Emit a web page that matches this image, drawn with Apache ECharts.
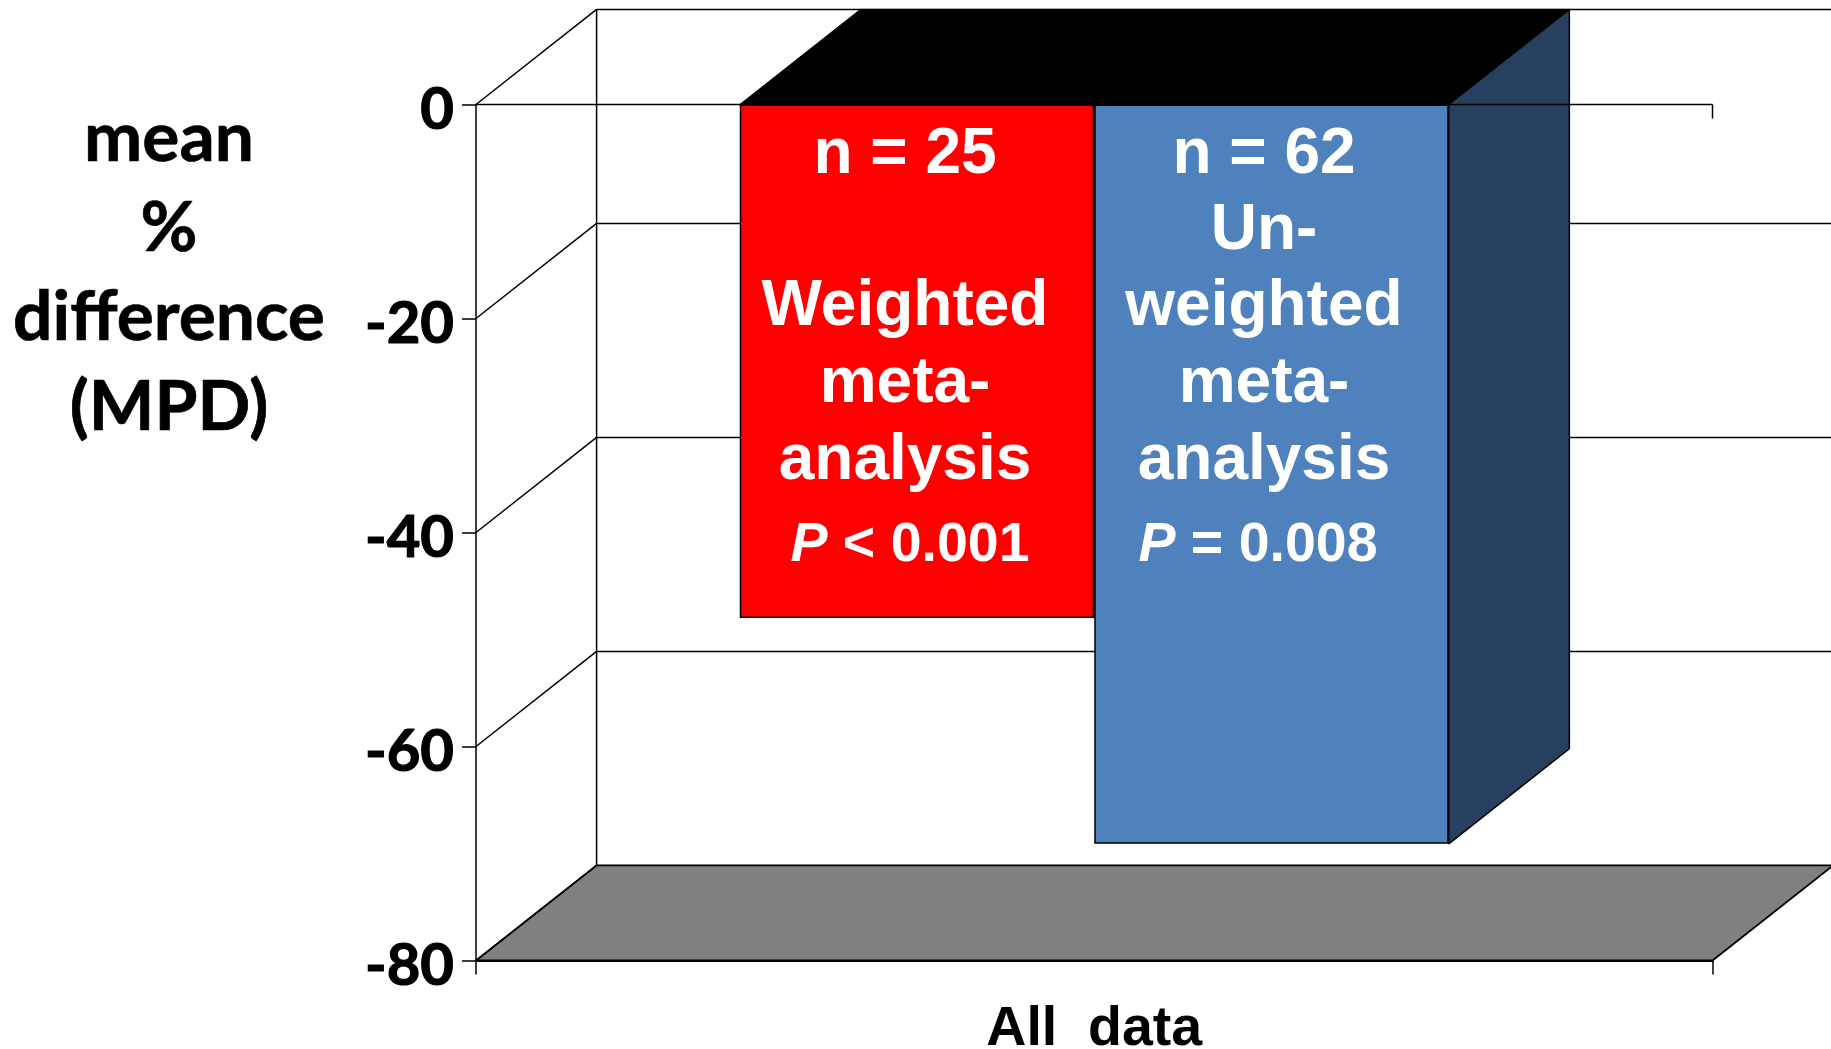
<!DOCTYPE html>
<html><head><meta charset="utf-8">
<style>html,body{margin:0;padding:0;background:#fff}#c{width:1831px;height:1049px}</style>
<script src="https://cdn.jsdelivr.net/npm/echarts@6/dist/echarts.min.js"></script>
</head><body><div id="c"></div>
<script>
const categories = ['All  data'];
const weightedValues = [-48];
const unweightedValues = [-69.1];
const tickValues = [0, -20, -40, -60, -80];
const yTitleLines = ['mean', '%', 'difference', '(MPD)'];
const weightedLines = ['n = 25', 'Weighted', 'meta-', 'analysis'];
const unweightedLines = ['n = 62', 'Un-', 'weighted', 'meta-', 'analysis'];
const weightedP = ['P', ' < 0.001'];
const unweightedP = ['P', ' = 0.008'];

const DX = 120.6, DY = -95.1, BAR_W = 354.5;
const line = {stroke:'#000', lineWidth:1.5};
const chart = echarts.init(document.getElementById('c'), null, {renderer:'canvas'});

function backdrop(params, api) {
  const o = api.coord([0, 0]); const x0 = o[0] - api.size([1,0])[0]/2; const w = api.size([1,0])[0];
  const kids = [];
  const yb = api.coord([0,-80])[1];
  kids.push({type:'polygon', shape:{points:[[x0,yb],[x0+DX,yb+DY],[x0+w+DX,yb+DY],[x0+w,yb]]}, style:{fill:'#808080', stroke:'#000', lineWidth:1.8, lineJoin:'bevel'}});
  kids.push({type:'line', shape:{x1:x0+DX,y1:o[1]+DY,x2:x0+DX,y2:yb+DY}, style:line});
  tickValues.forEach(t=>{
    const y = api.coord([0,t])[1];
    kids.push({type:'line', shape:{x1:x0,y1:y,x2:x0+DX,y2:y+DY}, style:line});
    if (t > -80) kids.push({type:'line', shape:{x1:x0+DX,y1:y+DY,x2:x0+w+DX,y2:y+DY}, style:line});
  });
  return {type:'group', children:kids};
}
function zeroLine(params, api) {
  const o = api.coord([0, 0]); const x0 = o[0] - api.size([1,0])[0]/2; const w = api.size([1,0])[0];
  return {type:'group', children:[
    {type:'line', shape:{x1:x0,y1:o[1],x2:x0+w,y2:o[1]}, style:line},
    {type:'line', shape:{x1:x0+w,y1:o[1],x2:x0+w,y2:o[1]+14}, style:line}
  ]};
}
function sides(params, api) {
  const cx = api.coord([0,0])[0], y0 = api.coord([0,0])[1];
  const xl = cx + (api.value(2)) * BAR_W, xr = xl + BAR_W, yv = api.coord([0, api.value(1)])[1];
  return {type:'group', children:[
    {type:'polygon', shape:{points:[[xl,y0],[xl+DX,y0+DY],[xr+DX,y0+DY],[xr,y0]]}, style:{fill:'#000', stroke:'#000', lineWidth:1, lineJoin:'bevel'}},
    {type:'polygon', shape:{points:[[xr,y0],[xr+DX,y0+DY],[xr+DX,yv+DY],[xr,yv]]}, style:{fill:'#28405F', stroke:'#000', lineWidth:1.5, lineJoin:'bevel'}}
  ]};
}
const f63 = {fontFamily:'Liberation Sans', fontWeight:'bold', fontSize:64, fill:'#fff', textAlign:'center', textVerticalAlign:'middle'};
function textAt(x, y, text, extra) { return {type:'text', x, y, silent:true, z:50, style:Object.assign({}, f63, {text}, extra||{})}; }
const richP = (parts) => `{i|${parts[0]}}{r|${parts[1]}}`;
const pRich = {i:{fontFamily:'Liberation Sans',fontWeight:'bold',fontStyle:'italic',fontSize:55.5,fill:'#fff'}, r:{fontFamily:'Liberation Sans',fontWeight:'bold',fontSize:55.5,fill:'#fff'}};
const lato = {fontFamily:'Lato', fontWeight:'bold', fontSize:69.5, fill:'#000', stroke:'#000', lineWidth:0.7};
const xW = 905, xU = 1264;
const yLines = [139, 229, 318, 408];
const wY = [155, 307, 384, 461];
const uY = [155, 231, 307, 384, 461];
const tickLabelStyle = {fontFamily:'Lato', fontWeight:'bold', fontSize:58, color:'#000', textBorderColor:'#000', textBorderWidth:1.2, lineHeight:69, verticalAlign:'bottom'};

const graphics = [];
yTitleLines.forEach((s,i)=>graphics.push(textAt(169, yLines[i], s, lato)));
weightedLines.forEach((s,i)=>graphics.push(textAt(xW, wY[i], s)));
unweightedLines.forEach((s,i)=>graphics.push(textAt(xU, uY[i], s)));
graphics.push({type:'text', x:910, y:546, z:50, silent:true, style:{text:richP(weightedP), rich:pRich, textAlign:'center', textVerticalAlign:'middle'}});
graphics.push({type:'text', x:1258, y:546, z:50, silent:true, style:{text:richP(unweightedP), rich:pRich, textAlign:'center', textVerticalAlign:'middle'}});

chart.setOption({
  animation:false,
  backgroundColor:'#fff',
  grid:{left:476, right:118.5, top:104.5, bottom:88.5, containLabel:false, outerBoundsMode:'none'},
  xAxis:{type:'category', data:categories, position:'bottom',
    axisLine:{onZero:false, lineStyle:{color:'#000', width:1.8}},
    axisTick:{show:true, length:14, lineStyle:{color:'#000', width:1.5}},
    axisLabel:{margin:41, fontFamily:'Liberation Sans', fontWeight:'bold', fontSize:55.5, color:'#000'}},
  yAxis:{type:'value', min:-80, max:0, interval:20, splitLine:{show:false},
    axisLine:{show:true, lineStyle:{color:'#000', width:1.5}},
    axisTick:{show:true, length:14, lineStyle:{color:'#000', width:1.5}},
    axisLabel:{margin:22, formatter:'{t|{value}}', rich:{t:tickLabelStyle}}},
  graphic:graphics,
  series:[
    {type:'custom', name:'backdrop', z:1, silent:true, renderItem:backdrop, data:[[0,0]], clip:false},
    {type:'custom', name:'weighted depth', z:2, silent:true, renderItem:sides, encode:{x:0,y:1}, data:[[0,weightedValues[0],-1]], clip:false},
    {type:'custom', name:'unweighted depth', z:2, silent:true, renderItem:sides, encode:{x:0,y:1}, data:[[0,unweightedValues[0],0]], clip:false},
    {type:'bar', name:'Weighted meta-analysis', z:3, data:weightedValues, barWidth:BAR_W, barGap:0, itemStyle:{color:'#FF0000', borderColor:'#000', borderWidth:1.5}},
    {type:'bar', name:'Un-weighted meta-analysis', z:3, data:unweightedValues, barWidth:BAR_W, barGap:0, itemStyle:{color:'#4F81BD', borderColor:'#000', borderWidth:1.5}},
    {type:'custom', name:'zero line', z:4, silent:true, renderItem:zeroLine, data:[[0,0]], clip:false}
  ]
});
</script></body></html>
